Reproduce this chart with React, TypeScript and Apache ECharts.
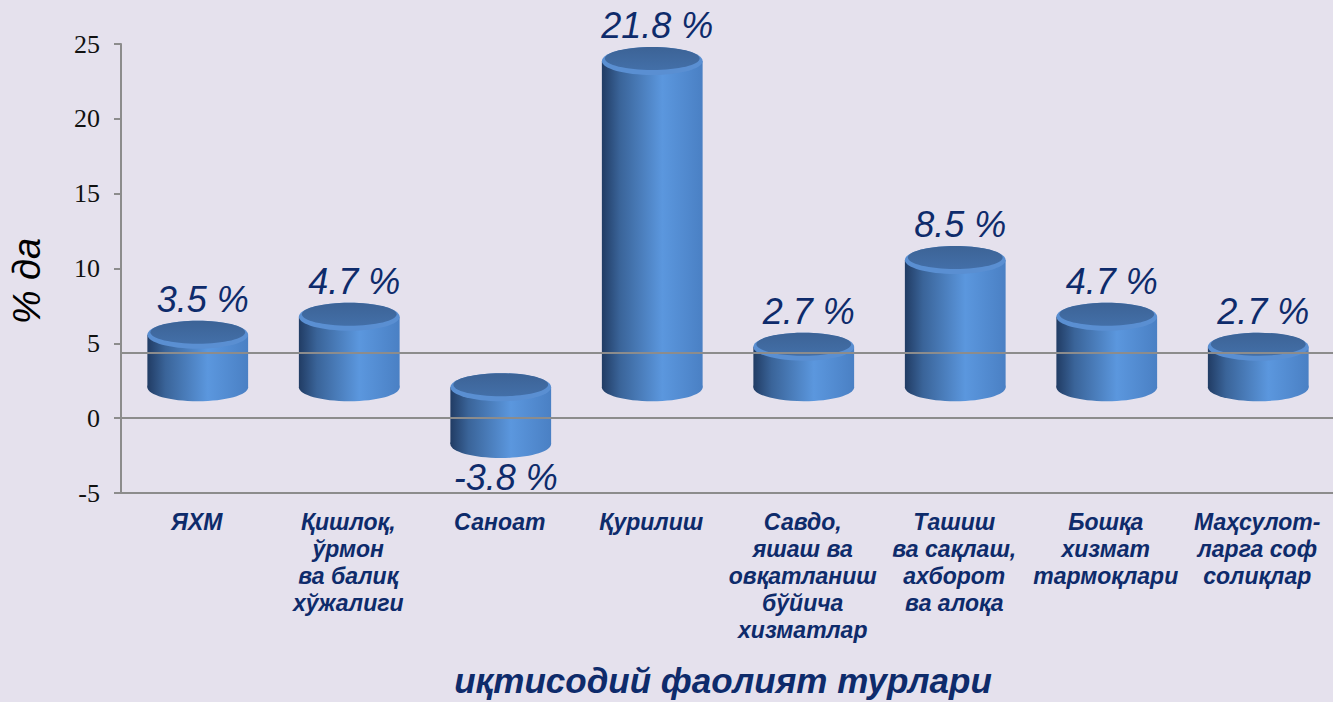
import React, { useEffect, useRef } from "react";
import * as echarts from "echarts";

const categories = [
  "ЯХМ",
  "Қишлоқ,\nўрмон\nва балиқ\nхўжалиги",
  "Саноат",
  "Қурилиш",
  "Савдо,\nяшаш ва\nовқатланиш\nбўйича\nхизматлар",
  "Ташиш\nва сақлаш,\nахборот\nва алоқа",
  "Бошқа\nхизмат\nтармоқлари",
  "Маҳсулот-\nларга соф\nсолиқлар",
];
const values = [3.5, 4.7, -3.8, 21.8, 2.7, 8.5, 4.7, 2.7];
const yMin = -5;
const yMax = 25;
const yInterval = 5;
const floorLineValue = 4.4;
const yAxisTitle = "% да";
const xAxisTitle = "иқтисодий фаолият турлари";

const NAVY = "#0E2B6B";
const FONT = "Liberation Sans";
const SERIF = "Liberation Serif";

export default function App() {
  const ref = useRef<HTMLDivElement>(null);
  useEffect(() => {
    if (!ref.current) return;
    const chart = echarts.init(ref.current, undefined, { renderer: "svg" });
    const sideGrad = {
      type: "linear", x: 0, y: 0, x2: 1, y2: 0,
      colorStops: [
        { offset: 0, color: "#213C64" },
        { offset: 0.18, color: "#3A6499" },
        { offset: 0.6, color: "#5B97DE" },
        { offset: 1, color: "#4A80C4" },
      ],
    };
    const topGrad = {
      type: "linear", x: 0, y: 0, x2: 0, y2: 1,
      colorStops: [
        { offset: 0, color: "#3C6396" },
        { offset: 1, color: "#436FA8" },
      ],
    };
    const option: any = {
      animation: false,
      backgroundColor: "#E5E1ED",
      grid: { left: 121, top: 44, width: 1216, height: 449 },
      xAxis: {
        type: "category",
        data: categories,
        axisLine: { onZero: false, lineStyle: { color: "#8C8C8C", width: 2 } },
        axisTick: { show: false },
        axisLabel: {
          interval: 0,
          fontSize: 23,
          fontWeight: "bold",
          fontStyle: "italic",
          fontFamily: FONT,
          color: NAVY,
          lineHeight: 27,
          margin: 15,
        },
      },
      yAxis: {
        type: "value",
        min: yMin,
        max: yMax,
        interval: yInterval,
        axisLine: { show: true, lineStyle: { color: "#8C8C8C", width: 2 } },
        axisTick: { show: true, length: 7, lineStyle: { color: "#8C8C8C", width: 2 } },
        splitLine: { show: false },
        axisLabel: {
          fontSize: 26,
          fontFamily: SERIF,
          color: "#111",
          margin: 21,
        },
      },
      graphic: [
        {
          type: "text",
          x: 27,
          y: 281,
          rotation: Math.PI / 2,
          style: {
            text: yAxisTitle,
            fontSize: 38,
            fontStyle: "italic",
            fontFamily: FONT,
            fill: "#000",
            align: "center",
            verticalAlign: "middle",
          },
        },
        {
          type: "text",
          x: 723,
          y: 680,
          style: {
            text: xAxisTitle,
            fontSize: 35,
            fontStyle: "italic",
            fontWeight: "bold",
            fontFamily: FONT,
            fill: NAVY,
            align: "center",
            verticalAlign: "middle",
          },
        },
      ],
      series: [
        {
          type: "line",
          data: [],
          z: 1,
          markLine: {
            silent: true,
            symbol: "none",
            label: { show: false },
            lineStyle: { color: "#8C8C8C", width: 2, type: "solid" },
            data: [{ yAxis: floorLineValue }],
          },
        },
        {
          type: "custom",
          z: 3,
          clip: false,
          data: values.map((v, i) => [i, v]),
          renderItem: (params: any, api: any) => {
            const i = api.value(0);
            const v = api.value(1);
            const p0 = api.coord([i, 0]);
            const p1 = api.coord([i, v]);
            const bw = api.size([1, 0])[0] * 0.665;
            const rx = bw / 2;
            const ry = 14;
            const cx = p0[0] + 1;
            const shift = 31;
            const yTop = Math.min(p0[1], p1[1]) - shift;
            const yBot = Math.max(p0[1], p1[1]) - shift;
            const labelY = v >= 0 ? p1[1] - 66 : p1[1] + 2;
            return {
              type: "group",
              children: [
                { type: "ellipse", shape: { cx, cy: yBot, rx, ry }, style: { fill: sideGrad } },
                { type: "rect", shape: { x: cx - rx, y: yTop, width: bw, height: yBot - yTop }, style: { fill: sideGrad } },
                { type: "ellipse", shape: { cx, cy: yTop, rx, ry }, style: { fill: "#5A8FD2" } },
                { type: "ellipse", shape: { cx, cy: yTop - 2.5, rx: rx - 3, ry: ry - 2.5 }, style: { fill: topGrad } },
                {
                  type: "text",
                  style: {
                    text: v.toFixed(1) + " %",
                    x: cx + 5,
                    y: labelY,
                    align: "center",
                    verticalAlign: "middle",
                    fontSize: 36,
                    fontStyle: "italic",
                    fontFamily: FONT,
                    fill: NAVY,
                  },
                },
              ],
            };
          },
        },
        {
          type: "line",
          data: [],
          z: 5,
          markLine: {
            silent: true,
            symbol: "none",
            label: { show: false },
            lineStyle: { color: "#8C8C8C", width: 2, type: "solid" },
            data: [{ yAxis: 0 }],
          },
        },
      ],
    };
    chart.setOption(option);
    return () => chart.dispose();
  }, []);
  return (
    <div
      ref={ref}
      style={{ position: "fixed", left: 0, top: 0, width: 1333, height: 702 }}
    />
  );
}
